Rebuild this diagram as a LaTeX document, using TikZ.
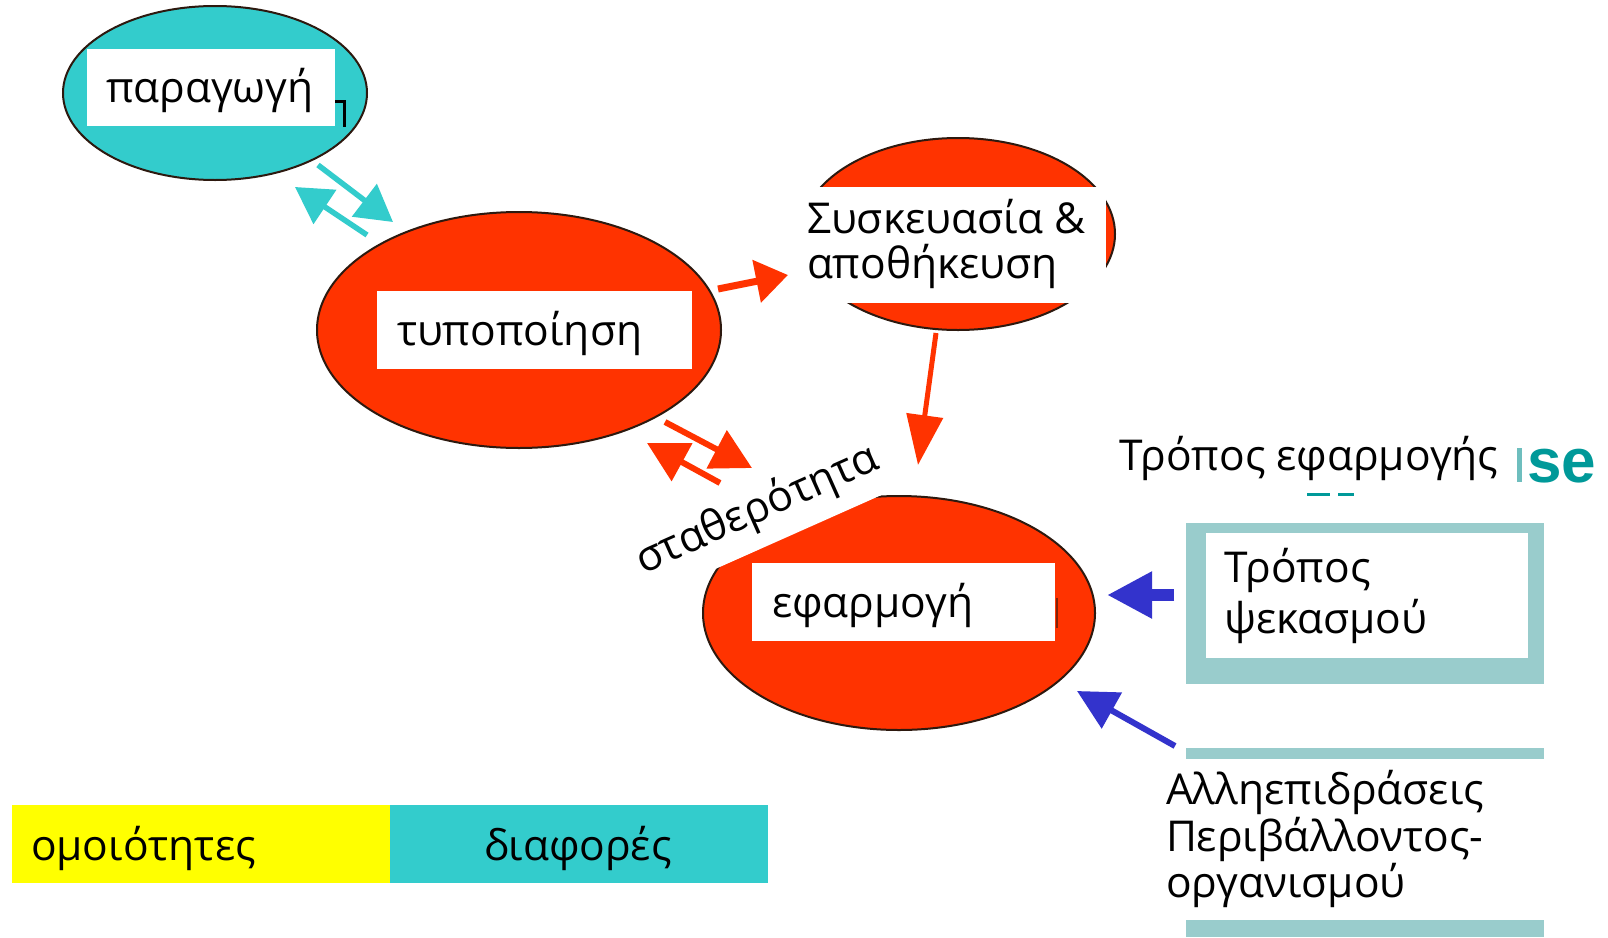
\documentclass[tikz,border=0pt]{standalone}
\usepackage{fontspec}
\setmainfont{Open Sans}
\newfontfamily\sefont{Liberation Sans}
\usetikzlibrary{shapes.geometric,arrows.meta}
\definecolor{ored}{RGB}{255,51,0}
\definecolor{ocyan}{RGB}{51,204,204}
\definecolor{oteal}{RGB}{153,204,204}
\definecolor{oblue}{RGB}{51,51,204}
\definecolor{odteal}{RGB}{0,153,153}
\definecolor{olteal}{RGB}{110,190,190}
\definecolor{oedge}{RGB}{45,25,15}
\definecolor{oyellow}{RGB}{255,255,0}
\begin{document}
\begin{tikzpicture}[x=1pt,y=-1pt,
  blob/.style={ellipse, draw=oedge, line width=2pt, inner sep=0pt},
  wbox/.style={rectangle, fill=white, inner sep=0pt, outer sep=0pt, anchor=north west},
  fbox/.style={rectangle, inner sep=0pt, outer sep=0pt, anchor=north west},
  lbl/.style={anchor=base west, inner sep=0pt, outer sep=0pt, font=\fontsize{42.5}{48}\selectfont},
  carrow/.style={ocyan, line width=5.5pt, -{Triangle[length=36pt,width=40pt]}},
  rarrow/.style={ored, line width=6pt, -{Triangle[length=40pt,width=42pt]}},
  barrow/.style={oblue, line width=6pt, -{Triangle[length=40pt,width=40pt]}}]
\useasboundingbox (0,0) rectangle (1608,937);
\fill[white] (0,0) rectangle (1608,937);

% ellipses
\node[blob, fill=ocyan, minimum width=304pt, minimum height=174pt] (prod) at (215,93) {};
\node[blob, fill=ored, minimum width=404pt, minimum height=236pt] (typo) at (519,330) {};
\node[blob, fill=ored, minimum width=314pt, minimum height=192pt] (sysk) at (958,234) {};
\node[blob, fill=ored, minimum width=392pt, minimum height=234pt] (efar) at (899,613) {};

% white boxes
\node[wbox, minimum width=248pt, minimum height=77pt] (prodbox) at (87,49) {};
\node[wbox, minimum width=315pt, minimum height=78pt] (typobox) at (377,291) {};
\node[wbox, minimum width=306pt, minimum height=116pt] (syskbox) at (800,187) {};
\node[wbox, minimum width=303pt, minimum height=78pt] (efarbox) at (752,563) {};

% small stray marks
\draw[black, line width=3pt] (335,101) -- (344,101) -- (344,127);
\draw[oedge!60!ored, line width=2pt] (1057,598) -- (1057,628);

% white band under the rotated label
\begin{scope}[shift={(645,574)}, rotate=24]
  \fill[white] (-90,-44) rectangle (278,24);
\end{scope}

% spraying-method box
\node[fbox, fill=oteal, minimum width=358pt, minimum height=161pt] (sprayout) at (1186,523) {};
\node[wbox, minimum width=322pt, minimum height=125pt] (sprayin) at (1206,533) {};
% bars
\node[fbox, fill=oteal, minimum width=358pt, minimum height=11pt] (bar1) at (1186,748) {};
\node[fbox, fill=oteal, minimum width=358pt, minimum height=17pt] (bar2) at (1186,920) {};

% legend
\node[fbox, fill=oyellow, minimum width=378pt, minimum height=78pt] (legsim) at (12,805) {};
\node[fbox, fill=ocyan, minimum width=378pt, minimum height=78pt] (legdif) at (390,805) {};

% arrow end points
\coordinate (c1s) at (318,165); \coordinate (c1e) at (393,222);
\coordinate (c2s) at (367,235); \coordinate (c2e) at (295,187);
\coordinate (r1s) at (665,422); \coordinate (r1e) at (752,468);
\coordinate (r2s) at (720,483); \coordinate (r2e) at (647,443);
\coordinate (r3s) at (718,289); \coordinate (r3e) at (788,275);
\coordinate (r4s) at (936,333); \coordinate (r4e) at (918,465);
\coordinate (b1s) at (1174,595); \coordinate (b1e) at (1107,595);
\coordinate (b2s) at (1175,746); \coordinate (b2e) at (1077,691);

% arrows
\draw[carrow] (c1s) -- (c1e);
\draw[carrow] (c2s) -- (c2e);
\draw[rarrow] (r1s) -- (r1e);
\draw[rarrow] (r2s) -- (r2e);
\draw[ored, line width=7pt, -{Triangle[length=32pt,width=42pt]}] (r3s) -- (r3e);
\draw[ored, line width=5pt, -{Triangle[length=50pt,width=36pt]}] (r4s) -- (r4e);
\draw[oblue, line width=12pt, -{Triangle[length=45pt,width=44pt]}] (b1s) -- (b1e);
\draw[barrow] (b2s) -- (b2e);

% texts
\node[lbl] (tprod) at (106,102) {παραγωγή};
\node[lbl] (ttypo) at (397,345) {τυποποίηση};
\node[lbl] (tsys1) at (807,233) {Συσκευασία \&};
\node[lbl] (tsys2) at (807,278) {αποθήκευση};
\node[lbl] (tefar) at (772,617) {εφαρμογή};
\node[lbl, rotate=24] (tstab) at (643,574) {σταθερότητα};
\node[lbl] (tmode) at (1119,470) {Τρόπος εφαρμογής};
\node[lbl] (tspr1) at (1224,582) {Τρόπος};
\node[lbl] (tspr2) at (1224,633) {ψεκασμού};
\node[lbl] (tint1) at (1166,804) {Αλληεπιδράσεις};
\node[lbl] (tint2) at (1166,851) {Περιβάλλοντος-};
\node[lbl] (tint3) at (1166,897) {οργανισμού};
\node[lbl] (tsim) at (31,860) {ομοιότητες};
\node[lbl] (tdif) at (484,860) {διαφορές};

% teal fragment
\fill[olteal] (1517,448) rectangle (1522,482);
\node[anchor=base west, inner sep=0pt, text=odteal, font=\sefont\bfseries\fontsize{62}{62}\selectfont] (tse) at (1527,482) {se};
\draw[odteal, line width=3pt] (1307,494) -- (1330,494);
\draw[odteal, line width=3pt] (1338,494) -- (1354,494);
\end{tikzpicture}
\end{document}
